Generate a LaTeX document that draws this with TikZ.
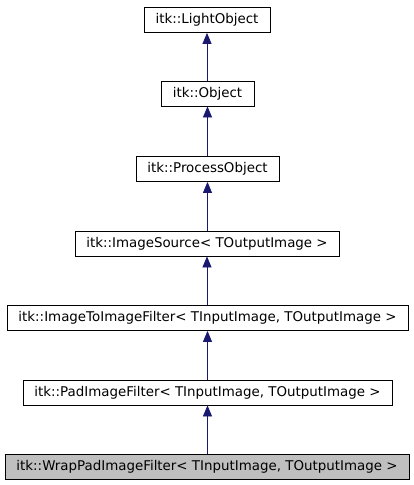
\documentclass[tikz,border=0pt]{standalone}
\usepackage{fontspec}
\setmainfont{DejaVu Sans}
\usetikzlibrary{positioning,arrows.meta}
\definecolor{edgeblue}{HTML}{191970}
\definecolor{curgray}{HTML}{BFBFBF}

\begin{document}
\begin{tikzpicture}[x=1pt,y=-1pt,
  cls/.style={draw=black,line width=0.8pt,fill=white,minimum height=25pt,inner sep=0pt,font=\fontsize{13.4}{15}\selectfont},
  inh/.style={draw=edgeblue,line width=0.8pt,-{Triangle[length=11pt,width=9pt]}}]
\useasboundingbox (0,0) rectangle (413,485);
\node[cls,minimum width=126pt] (light) at (207,20) {itk::LightObject};
\node[cls,minimum width=93pt] (obj) at (207.5,93.5) {itk::Object};
\node[cls,minimum width=143pt] (proc) at (207.5,169) {itk::ProcessObject};
\node[cls,minimum width=264pt] (src) at (207,243.5) {itk::ImageSource< TOutputImage >};
\node[cls,minimum width=401pt] (i2i) at (207.5,318) {itk::ImageToImageFilter< TInputImage, TOutputImage >};
\node[cls,minimum width=369pt] (pad) at (207.5,392.5) {itk::PadImageFilter< TInputImage, TOutputImage >};
\node[cls,fill=curgray,minimum width=404pt] (wrap) at (207,467) {itk::WrapPadImageFilter< TInputImage, TOutputImage >};
\draw[inh] (obj.north -| light) -- (light);
\draw[inh] (proc.north -| obj) -- (obj);
\draw[inh] (src.north -| proc) -- (proc);
\draw[inh] (i2i.north -| src) -- (src);
\draw[inh] (pad.north -| i2i) -- (i2i);
\draw[inh] (wrap.north -| pad) -- (pad);
\end{tikzpicture}
\end{document}
